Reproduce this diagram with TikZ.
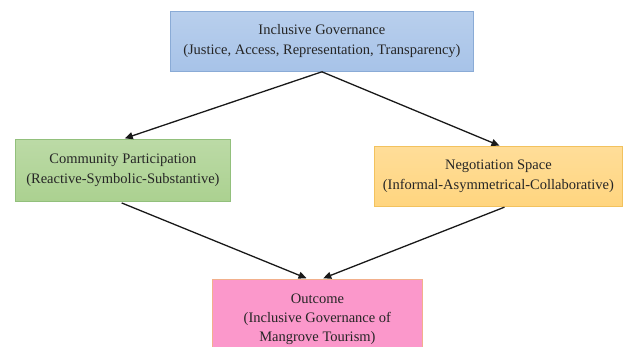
\documentclass[tikz,border=0pt]{standalone}
\usepackage{fontspec}
\setmainfont{Liberation Serif}
\usetikzlibrary{arrows.meta}

\definecolor{govfill}{HTML}{A7C3E8}
\definecolor{govline}{HTML}{8AABD6}
\definecolor{partfill}{HTML}{ABD190}
\definecolor{partline}{HTML}{92C07C}
\definecolor{negofill}{HTML}{FFD57F}
\definecolor{negoline}{HTML}{F2C25E}
\definecolor{outfill}{HTML}{FB98CB}
\definecolor{outline}{HTML}{F2B08C}

\tikzset{
  box/.style={draw,line width=0.8pt,anchor=north west,align=center,
              font=\fontsize{14.5}{20}\selectfont,text=black!85,inner sep=0pt},
  link/.style={-{Triangle[length=8pt,width=7pt]},line width=1.3pt,black!90}
}

\begin{document}
\begin{tikzpicture}[x=1pt,y=-1pt]
   \useasboundingbox (0,0) rectangle (630,346);
   % the four boxes
   \node[box,top color=govfill!80,bottom color=govfill,draw=govline,
         minimum width=303pt,minimum height=60pt] (gov) at (170,11)
         {Inclusive Governance\\(Justice, Access, Representation, Transparency)};
   \node[box,top color=partfill!80,bottom color=partfill,draw=partline,
         minimum width=215pt,minimum height=62pt] (part) at (15,139)
         {Community Participation\\(Reactive-Symbolic-Substantive)};
   \node[box,top color=negofill!80,bottom color=negofill,draw=negoline,
         minimum width=248pt,minimum height=60pt] (nego) at (374,146)
         {Negotiation Space\\(Informal-Asymmetrical-Collaborative)};
   \node[box,fill=outfill,draw=outline,font=\fontsize{14.5}{19}\selectfont,
         minimum width=210pt,minimum height=80pt] (outc) at (212,279)
         {Outcome\\(Inclusive Governance of\\Mangrove Tourism)};
   % arrows
   \draw[link,shorten >=2pt] (gov.south) -- (part.north);
   \draw[link,shorten >=1pt] (gov.south) -- ([xshift=2pt]nego.north);
   \draw[link,shorten <=3pt,shorten >=2pt] ([xshift=-4pt]part.south) -- ([xshift=-9pt]outc.north);
   \draw[link,shorten <=1pt,shorten >=2pt] ([xshift=7pt]nego.south) -- ([xshift=4pt]outc.north);
\end{tikzpicture}
\end{document}
